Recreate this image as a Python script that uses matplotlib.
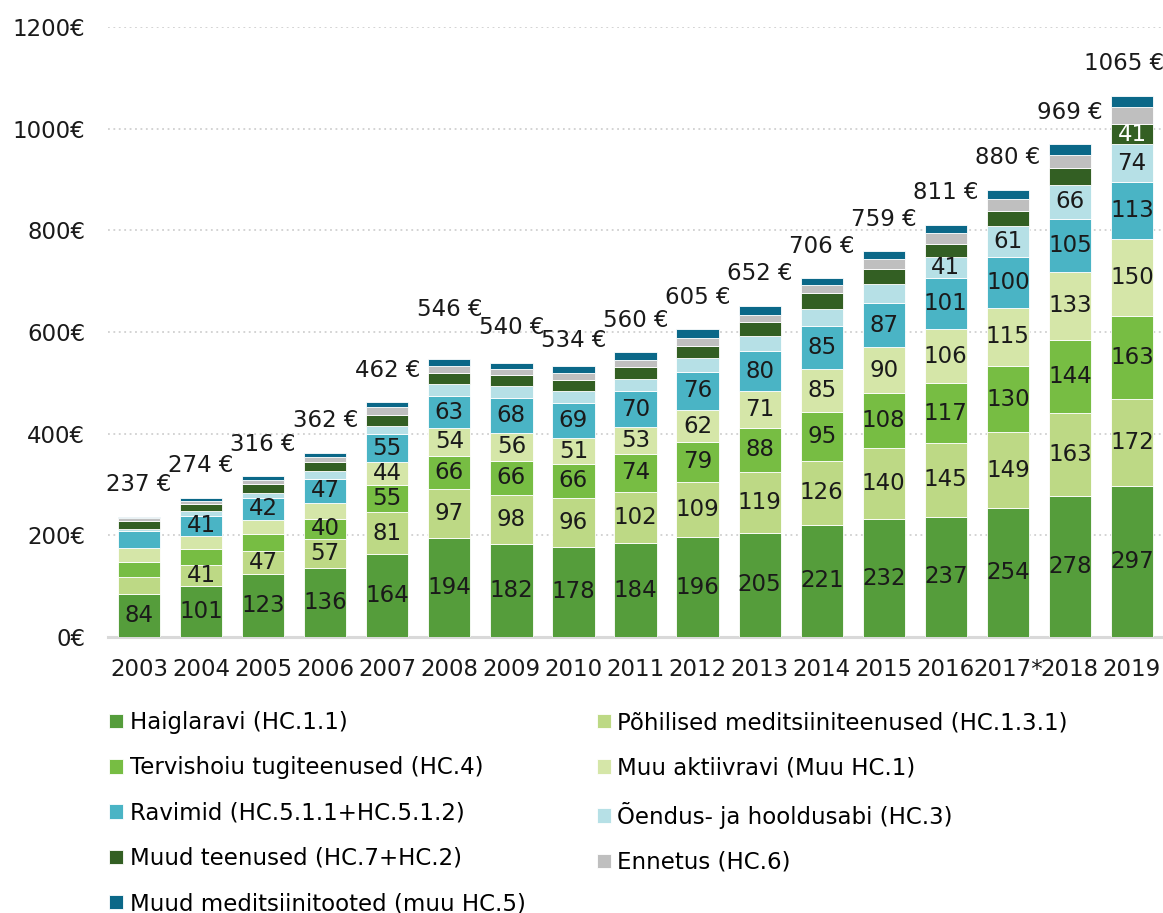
import matplotlib
matplotlib.use("Agg")
import matplotlib.pyplot as plt
import numpy as np

plt.rcParams['font.family'] = ['DejaVu Sans']

# Years and totals (EUR per capita)
years = ["2003", "2004", "2005", "2006", "2007", "2008", "2009", "2010", "2011",
         "2012", "2013", "2014", "2015", "2016", "2017*", "2018", "2019"]
totals = [237, 274, 316, 362, 462, 546, 540, 534, 560, 605, 652, 706, 759, 811, 880, 969, 1065]

# Components (bottom to top)
haiglaravi = [84, 101, 123, 136, 164, 194, 182, 178, 184, 196, 205, 221, 232, 237, 254, 278, 297]
pohilised = [35, 41, 47, 57, 81, 97, 98, 96, 102, 109, 119, 126, 140, 145, 149, 163, 172]
tugiteenused = [28, 31, 33, 40, 55, 66, 66, 66, 74, 79, 88, 95, 108, 117, 130, 144, 163]
muu_aktiivravi = [28, 25, 28, 31, 44, 54, 56, 51, 53, 62, 71, 85, 90, 106, 115, 133, 150]
ravimid = [33, 41, 42, 47, 55, 63, 68, 69, 70, 76, 80, 85, 87, 101, 100, 105, 113]
oendus = [4, 8, 10, 15, 16, 23, 23, 23, 24, 26, 30, 34, 37, 41, 61, 66, 74]
muud_teenused = [16, 14, 18, 18, 22, 23, 22, 22, 24, 24, 26, 30, 29, 26, 29, 33, 41]
ennetus = [6, 7, 8, 10, 16, 14, 13, 15, 14, 16, 14, 16, 20, 22, 23, 27, 33]
muud_tooted = [3, 6, 7, 8, 9, 12, 12, 14, 15, 17, 19, 14, 16, 16, 19, 20, 22]

series = [
    ("Haiglaravi (HC.1.1)", haiglaravi, "#559d3b"),
    ("Põhilised meditsiiniteenused (HC.1.3.1)", pohilised, "#bdd985"),
    ("Tervishoiu tugiteenused (HC.4)", tugiteenused, "#77bd43"),
    ("Muu aktiivravi (Muu HC.1)", muu_aktiivravi, "#d5e6a8"),
    ("Ravimid (HC.5.1.1+HC.5.1.2)", ravimid, "#4ab4c5"),
    ("Õendus- ja hooldusabi (HC.3)", oendus, "#b6e0e6"),
    ("Muud teenused (HC.7+HC.2)", muud_teenused, "#335f23"),
    ("Ennetus (HC.6)", ennetus, "#bfbfbf"),
    ("Muud meditsiinitooted (muu HC.5)", muud_tooted, "#0b6888"),
]

fig = plt.figure(figsize=(11.63, 9.13), dpi=100)
ax = fig.add_axes([0.0929, 0.3023, 0.9071, 0.6681])

x = np.arange(len(years))
fs = 16.5
bottom = np.zeros(len(years))
handles = []
for name, vals, col in series:
    vals = np.array(vals, dtype=float)
    b = ax.bar(x, vals, 0.68, bottom=bottom, color=col, edgecolor="white",
               linewidth=0.6, label=name)
    handles.append(b)
    txt_col = "white" if col == "#335f23" else "#1a1a1a"
    for xi, v, b0 in zip(x, vals, bottom):
        if v >= 40:
            ax.text(xi, b0 + v / 2, f"{int(v)}", ha="center", va="center",
                    fontsize=fs, color=txt_col)
    bottom += vals

# total labels above bars (small manual nudges like in the original)
y_nudge = {5: 18, 6: 3, 7: -7}
x_nudge = {16: -8}
for xi, t in zip(x, totals):
    ax.annotate(f"{t} €", (xi, t), xytext=(x_nudge.get(xi, 0) * 0.72, (32 + y_nudge.get(xi, 0)) * 0.72),
                textcoords="offset points", ha="center", va="center",
                fontsize=fs, color="#1a1a1a")

ax.set_xlim(-0.5, len(years) - 0.5)
ax.set_ylim(0, 1200)
ax.set_yticks(range(0, 1201, 200))
ax.set_yticklabels([f"{v}€" for v in range(0, 1201, 200)])
ax.set_xticks(x)
ax.set_xticklabels(years)
ax.tick_params(axis="both", length=0, labelsize=fs, colors="#1a1a1a")
ax.tick_params(axis="y", pad=16.5)
ax.tick_params(axis="x", pad=15)

for s in ax.spines.values():
    s.set_visible(False)
for v in range(200, 1201, 200):
    ax.axhline(v, color="#d0d0d0", linestyle=(0, (1, 2)), linewidth=1.3, zorder=0)
ax.axhline(0, color="#d9d9d9", linewidth=2.2, zorder=0, clip_on=False)

# legend: row-wise order in two columns
order = [0, 2, 4, 6, 8, 1, 3, 5, 7]
leg = fig.legend([handles[i] for i in order], [series[i][0] for i in order],
                 ncol=2, loc="upper left", bbox_to_anchor=(0.094, 0.221),
                 frameon=False, fontsize=fs, handlelength=0.6, handleheight=0.6,
                 handletextpad=0.3, labelspacing=0.97, columnspacing=3.1,
                 borderaxespad=0, borderpad=0)

fig.savefig("out.png", dpi=100)
